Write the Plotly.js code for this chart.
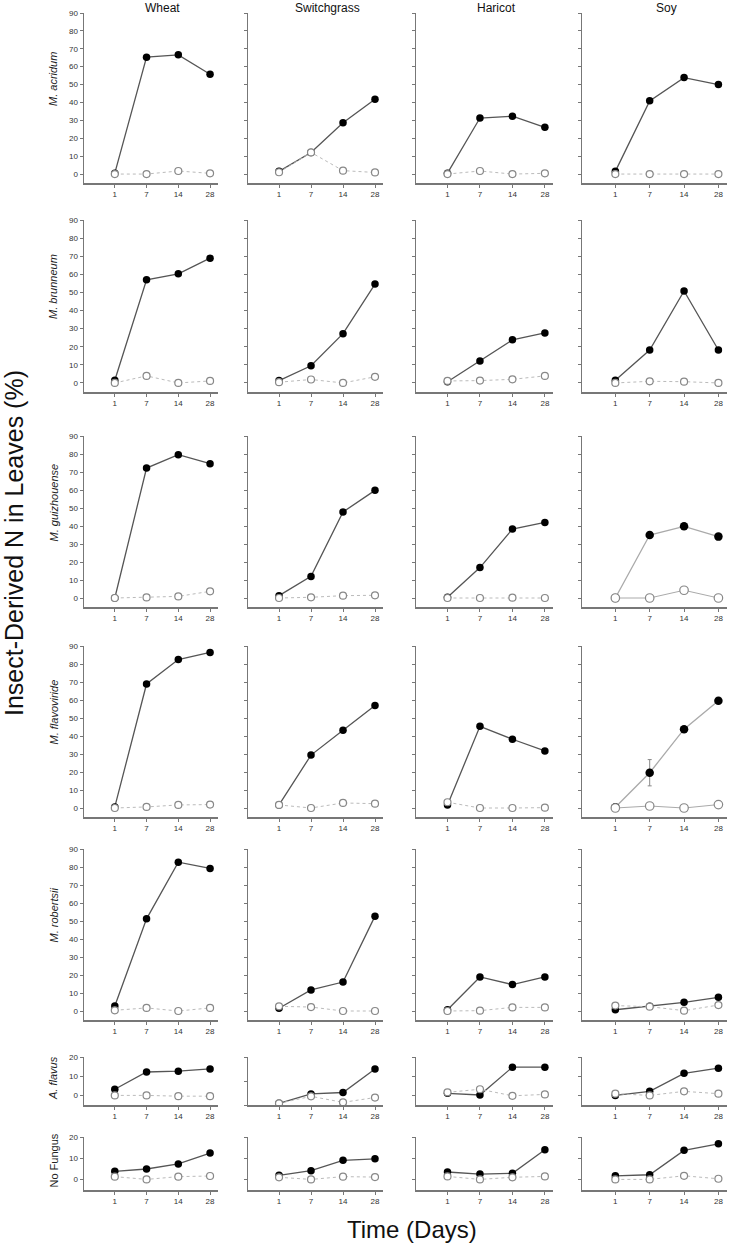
<!DOCTYPE html>
<html>
<head>
<meta charset="utf-8">
<script src="https://cdn.plot.ly/plotly-3.0.1.min.js"></script>
<style>
  body { margin: 0; background: #fff; }
  #chart { width: 731px; height: 1249px; }
</style>
</head>
<body>
<div id="chart"></div>
<script>
const days = ["1", "7", "14", "28"];
const crops = ["Wheat", "Switchgrass", "Haricot", "Soy"];
const fungi = ["<i>M. acridum</i>", "<i>M. brunneum</i>", "<i>M. guizhouense</i>",
  "<i>M. flavoviride</i>", "<i>M. robertsii</i>", "<i>A. flavus</i>", "No Fungus"];

// filled circles / open circles, one array per crop (Wheat, Switchgrass, Haricot, Soy)
const acridumFilled = [[0.5, 65.3, 66.6, 55.8], [1.5, 12, 28.7, 41.8], [0.5, 31.3, 32.3, 26.1], [1.5, 40.9, 53.9, 50]];
const acridumOpen = [[0, 0, 1.7, 0.4], [1, 12.1, 1.9, 0.9], [0, 1.7, 0, 0.4], [0, 0, 0, 0]];
const brunneumFilled = [[1.5, 57, 60.3, 68.9], [1.3, 9.5, 27.2, 54.6], [0.7, 12.1, 23.8, 27.6], [1.5, 18.2, 50.8, 18.2]];
const brunneumOpen = [[0, 3.9, 0, 1.1], [0.4, 1.9, 0, 3.4], [1.1, 1.3, 2, 3.9], [0, 0.9, 0.7, 0]];
const guizhouenseFilled = [[0, 72.2, 79.6, 74.6], [1.3, 12, 47.8, 59.8], [0.4, 16.9, 38.3, 42], [0, 35, 39.8, 34.1]];
const guizhouenseOpen = [[0, 0.3, 0.9, 3.7], [0, 0.4, 1.3, 1.5], [0, 0, 0.2, 0], [0, 0, 4.3, 0]];
const flavovirideFilled = [[0.6, 68.9, 82.5, 86.4], [1.7, 29.4, 43.2, 57], [1.7, 45.4, 38.2, 31.7], [0.4, 19.6, 43.8, 59.6]];
const flavovirideOpen = [[0, 0.6, 1.7, 1.9], [1.7, 0, 2.8, 2.4], [3.2, 0, 0, 0.2], [0, 1.1, 0, 1.9]];
const flavovirideSoyErr = [0, 7.3, 0, 0];
const robertsiiFilled = [[2.8, 51.2, 82.7, 79.2], [1.5, 11.7, 16.1, 52.7], [0.7, 18.9, 14.7, 18.9], [0.7, 2.6, 4.8, 7.6]];
const robertsiiOpen = [[0.4, 1.7, 0, 1.7], [2.6, 2.2, 0, 0], [0, 0.2, 2, 2], [3, 2.4, 0.2, 3.3]];
const flavusFilled = [[3.2, 12.2, 12.6, 13.8], [0.7, 4.6, 5.2, 15], [1.1, 0.2, 14.7, 14.7], [0, 2.1, 11.5, 14.2]];
const flavusOpen = [[0, 0, -0.4, -0.4], [0.7, 3.6, 1.1, 3.1], [1.6, 3.2, -0.2, 0.5], [0.9, 0, 2.1, 0.9]];
const noFungusFilled = [[3.8, 4.9, 7.3, 12.4], [1.9, 4.1, 9, 9.7], [3.5, 2.5, 2.9, 14], [1.7, 2.2, 13.7, 16.8]];
const noFungusOpen = [[1.3, 0, 1.3, 1.6], [1, 0, 1.3, 1.1], [1.4, 0, 1, 1.4], [0, 0, 1.7, 0.3]];

const bigTicks = [0, 10, 20, 30, 40, 50, 60, 70, 80, 90];
const smallTicks = [0, 10, 20];

const filledRows = [acridumFilled, brunneumFilled, guizhouenseFilled, flavovirideFilled, robertsiiFilled, flavusFilled, noFungusFilled];
const openRows = [acridumOpen, brunneumOpen, guizhouenseOpen, flavovirideOpen, robertsiiOpen, flavusOpen, noFungusOpen];

const W = 731, H = 1249;
// pixel boxes of each panel column / row
const colPx = [[84, 218], [248, 383], [416, 553], [582, 727]];
const rowPx = [[13, 183], [220, 392], [436, 607], [646, 817], [849, 1020], [1057, 1105], [1137, 1190]];
const xRange = [-0.97, 3.25];
const axisGrey = "#777";

const traces = [];
const layout = {
  width: W,
  height: H,
  margin: { l: 0, r: 0, t: 0, b: 0 },
  showlegend: false,
  paper_bgcolor: "#fff",
  plot_bgcolor: "#fff",
  font: { family: "Liberation Sans, Arial, sans-serif", color: "#333" },
  annotations: [],
};

for (let r = 0; r < 7; r++) {
  const small = r >= 5;
  for (let c = 0; c < 4; c++) {
    const k = r * 4 + c + 1;
    const sfx = k === 1 ? "" : String(k);
    const xa = "x" + sfx, ya = "y" + sfx;
    // Soy panels of guizhouense / flavoviride are drawn in lighter grey
    const light = c === 3 && (r === 2 || r === 3);

    const filled = {
      type: "scatter",
      mode: "lines+markers",
      x: days,
      y: filledRows[r][c],
      xaxis: xa,
      yaxis: ya,
      line: { color: light ? "#aaa" : "#555", width: 1.3 },
      marker: { color: "#000", size: light ? 8.5 : 7.5 },
      hoverinfo: "skip",
    };
    if (r === 3 && c === 3) {
      filled.error_y = { type: "data", array: flavovirideSoyErr, color: "#888", thickness: 1, width: 2 };
    }
    traces.push(filled);
    traces.push({
      type: "scatter",
      mode: "lines+markers",
      x: days,
      y: openRows[r][c],
      xaxis: xa,
      yaxis: ya,
      line: { color: light ? "#aaa" : "#bbb", width: 1, dash: light ? "solid" : "dot" },
      marker: { color: "#fff", size: light ? 8.5 : 7, line: { color: "#888", width: 1.2 } },
      hoverinfo: "skip",
    });

    layout["xaxis" + sfx] = {
      domain: [colPx[c][0] / W, colPx[c][1] / W],
      anchor: ya,
      type: "category",
      range: xRange,
      showline: true,
      linecolor: axisGrey,
      linewidth: 1.5,
      ticks: "outside",
      ticklen: 3,
      tickcolor: axisGrey,
      tickfont: { size: 8, color: "#333" },
      showgrid: false,
      zeroline: false,
      fixedrange: true,
    };
    // switchgrass A. flavus panel sits on its own 0-20 scale
    let yr = small ? [-5, 20] : [-5, 90];
    if (r === 5 && c === 1) yr = [0, 20];
    layout["yaxis" + sfx] = {
      domain: [1 - rowPx[r][1] / H, 1 - rowPx[r][0] / H],
      anchor: xa,
      range: yr,
      tickmode: "array",
      tickvals: small ? smallTicks : bigTicks,
      showticklabels: c === 0,
      showline: true,
      linecolor: axisGrey,
      linewidth: 1.5,
      ticks: "outside",
      ticklen: 3,
      tickcolor: axisGrey,
      tickfont: { size: 8, color: "#333" },
      showgrid: false,
      zeroline: false,
      fixedrange: true,
    };
  }

  // row label
  const mid = (rowPx[r][0] + rowPx[r][1]) / 2 - (small ? 3 : 19);
  layout.annotations.push({
    xref: "paper", yref: "paper",
    x: 53 / W, y: 1 - mid / H,
    text: fungi[r],
    textangle: -90,
    showarrow: false,
    font: { size: 11, color: "#222" },
    xanchor: "center", yanchor: "middle",
  });
}

// column titles
crops.forEach((name, c) => {
  const px = colPx[c][0] + (1.5 - xRange[0]) / (xRange[1] - xRange[0]) * (colPx[c][1] - colPx[c][0]);
  layout.annotations.push({
    xref: "paper", yref: "paper",
    x: px / W, y: 1 - 8 / H,
    text: name,
    showarrow: false,
    font: { size: 12, color: "#111" },
    xanchor: "center", yanchor: "middle",
  });
});

// shared axis titles
layout.annotations.push({
  xref: "paper", yref: "paper",
  x: 14 / W, y: 1 - 543 / H,
  text: "Insect-Derived N in Leaves (%)",
  textangle: -90,
  showarrow: false,
  font: { size: 25, color: "#111" },
  xanchor: "center", yanchor: "middle",
});
layout.annotations.push({
  xref: "paper", yref: "paper",
  x: 412 / W, y: 1 - 1229 / H,
  text: "Time (Days)",
  showarrow: false,
  font: { size: 24, color: "#111" },
  xanchor: "center", yanchor: "middle",
});

Plotly.newPlot("chart", traces, layout, { staticPlot: true });
</script>
</body>
</html>
